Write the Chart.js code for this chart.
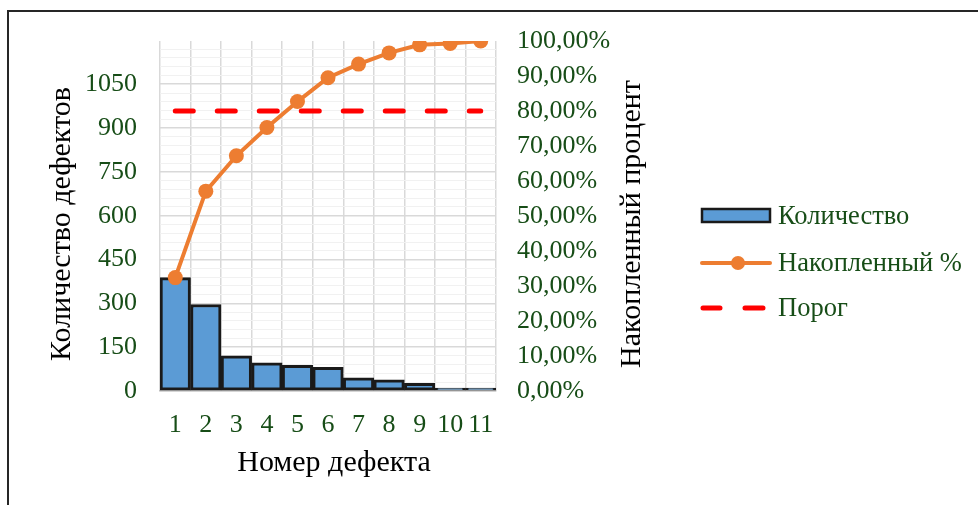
<!DOCTYPE html>
<html lang="ru">
<head>
<meta charset="UTF-8">
<title>Диаграмма Парето</title>
<style>
  body { margin: 0; background: #fff; }
  #wrap { width: 978px; height: 505px; position: relative; }
</style>
</head>
<body>
<div id="wrap"><canvas id="chart"></canvas></div>
<script src="https://cdn.jsdelivr.net/npm/chart.js"></script>
<script>
const defects = ["1", "2", "3", "4", "5", "6", "7", "8", "9", "10", "11"];
const counts = [388, 296, 120, 96, 88, 81, 45, 38, 26, 10, 10];
const cumPercent = [32.4, 57.1, 67.2, 75.3, 82.7, 89.5, 93.4, 96.6, 98.9, 99.3, 100];
const threshold = [80, 80, 80, 80, 80, 80, 80, 80, 80, 80, 80];
const countTicks = [0, 150, 300, 450, 600, 750, 900, 1050];
const countMax = 1198; // сумма дефектов
const percentMax = 100;

const serif = "'Liberation Serif', 'Times New Roman', serif";
const green = "#174d17";
const orange = "#ED7D31";
const blue = "#5B9BD5";

const decor = {
  id: "decor",
  beforeDraw(chart) {
    const c = chart.ctx;
    c.save();
    c.strokeStyle = "#262626";
    c.lineWidth = 2;
    c.beginPath();
    c.moveTo(8, 505);
    c.lineTo(8, 11);
    c.lineTo(978, 11);
    c.stroke();
    c.restore();
  },
  afterDraw(chart) {
    const c = chart.ctx;
    c.save();
    // заголовки осей
    c.fillStyle = "#000";
    c.font = "30px " + serif;
    c.textAlign = "center";
    c.textBaseline = "middle";
    c.fillText("Номер дефекта", 334, 463);
    c.save();
    c.translate(62, 224);
    c.rotate(-Math.PI / 2);
    c.fillText("Количество дефектов", 0, 0);
    c.restore();
    c.save();
    c.translate(632, 224);
    c.rotate(-Math.PI / 2);
    c.fillText("Накопленный процент", 0, 0);
    c.restore();

    // легенда
    c.textAlign = "left";
    c.font = "26.5px " + serif;
    c.fillStyle = green;
    c.fillText("Количество", 778, 217);
    c.fillText("Накопленный %", 778, 264);
    c.fillText("Порог", 778, 309);

    c.fillStyle = blue;
    c.fillRect(702, 209, 68, 13);
    c.strokeStyle = "#1a1a1a";
    c.lineWidth = 2.5;
    c.strokeRect(702, 209, 68, 13);

    c.strokeStyle = orange;
    c.lineWidth = 4;
    c.lineCap = "round";
    c.beginPath();
    c.moveTo(702, 263);
    c.lineTo(770, 263);
    c.stroke();
    c.fillStyle = orange;
    c.beginPath();
    c.arc(738, 263, 7, 0, Math.PI * 2);
    c.fill();

    c.strokeStyle = "#FF0000";
    c.lineWidth = 5;
    c.beginPath();
    c.moveTo(703, 308);
    c.lineTo(720, 308);
    c.moveTo(745, 308);
    c.lineTo(763, 308);
    c.stroke();
    c.restore();
  }
};

new Chart(document.getElementById("chart"), {
  data: {
    labels: defects,
    datasets: [
      {
        type: "line",
        label: "Накопленный %",
        data: cumPercent,
        yAxisID: "y1",
        borderColor: orange,
        backgroundColor: orange,
        borderWidth: 4,
        pointRadius: 7.5,
        pointHoverRadius: 7.5,
        pointBorderWidth: 0,
        tension: 0,
        order: 1
      },
      {
        type: "line",
        label: "Порог",
        data: threshold,
        yAxisID: "y1",
        borderColor: "#FF0000",
        borderWidth: 5,
        borderDash: [18, 24],
        borderCapStyle: "round",
        pointRadius: 0,
        order: 2
      },
      {
        type: "bar",
        label: "Количество",
        data: counts,
        yAxisID: "y",
        backgroundColor: blue,
        borderColor: "#1a1a1a",
        borderWidth: 3,
        borderSkipped: false,
        barPercentage: 1,
        categoryPercentage: 1,
        order: 3
      }
    ]
  },
  options: {
    responsive: true,
    maintainAspectRatio: false,
    animation: false,
    layout: { padding: { top: 41, right: 352, left: 0, bottom: 0 } },
    plugins: {
      legend: { display: false },
      tooltip: { enabled: false }
    },
    scales: {
      x: {
        offset: true,
        grid: { offset: true, color: "#d9d9d9", lineWidth: 1.5, drawTicks: false },
        border: { color: "#bfbfbf", width: 1.5 },
        ticks: { font: { family: serif, size: 26 }, color: green, padding: 19, maxRotation: 0, autoSkip: false },
        afterFit(scale) { scale.height = 114; }
      },
      y: {
        position: "left",
        min: 0,
        max: countMax,
        grid: {
          drawTicks: false,
          color: (ctx) => (countTicks.includes(ctx.tick.value) ? "#d9d9d9" : "#f1f1f1"),
          lineWidth: (ctx) => (countTicks.includes(ctx.tick.value) ? 1.5 : 1)
        },
        border: { display: false },
        ticks: {
          stepSize: 30,
          autoSkip: false,
          includeBounds: false,
          padding: 23,
          color: green,
          font: { family: serif, size: 26 },
          callback: (v) => (countTicks.includes(v) ? String(v) : "")
        },
        afterFit(scale) { scale.width = 160; }
      },
      y1: {
        position: "right",
        min: 0,
        max: percentMax,
        grid: { display: false, drawTicks: false },
        border: { display: false },
        ticks: {
          stepSize: 10,
          padding: 21,
          color: green,
          font: { family: serif, size: 26 },
          callback: (v) => v.toFixed(2).replace(".", ",") + "%"
        },
        afterFit(scale) { scale.width = 130; }
      }
    }
  },
  plugins: [decor]
});
</script>
</body>
</html>
